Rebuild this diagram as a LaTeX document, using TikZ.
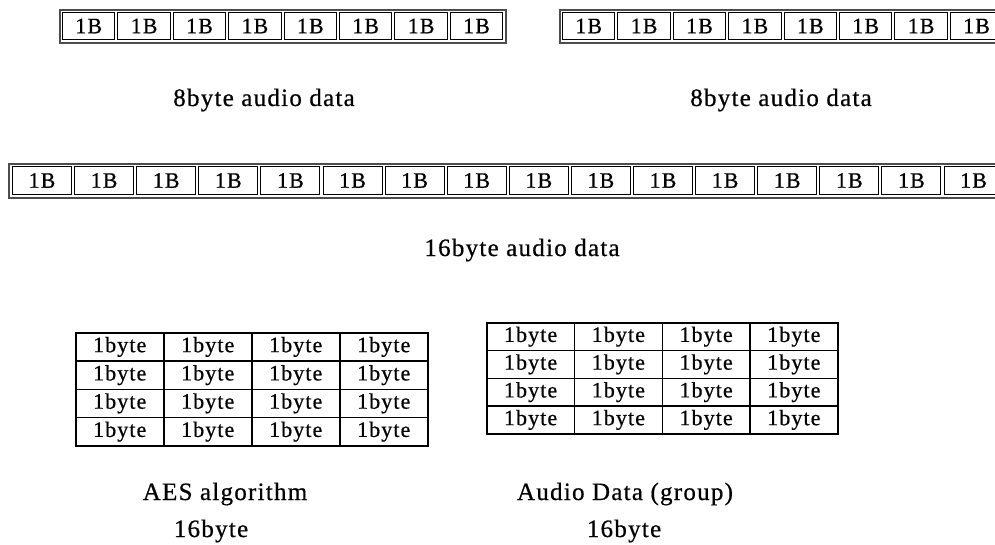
\documentclass[tikz,border=0pt]{standalone}
\usepackage{fontspec}
\setmainfont{Liberation Serif}[LetterSpace=5,FakeBold=0.6]
\begin{document}
\begin{tikzpicture}[x=1pt,y=-1pt,
  outerbox/.style={draw=black!70, line width=2pt, anchor=north west, inner sep=0},
  bcell/.style={draw=black, line width=1pt, anchor=north west, inner sep=0,
    font=\fontsize{22}{22}\selectfont},
  tcell/.style={draw=black, line width=1.5pt, anchor=north west, inner sep=0,
    minimum width=88pt, font=\fontsize{22}{22}\selectfont},
  caption/.style={anchor=base, inner sep=0, font=\fontsize{25}{25}\selectfont}]
\useasboundingbox (0,0) rectangle (995,545);
\clip (0,0) rectangle (995,545);
% top-left row of 8 bytes
\node[outerbox, minimum width=446pt, minimum height=33pt] (rowA) at (59,9) {};
\foreach \i in {0,...,7}
  \node[bcell, minimum width=52.4pt, minimum height=27pt] (a\i) at ({62+55.4*\i},12) {1B};
% top-right row of 8 bytes
\node[outerbox, minimum width=446pt, minimum height=33pt] (rowB) at (559,9) {};
\foreach \i in {0,...,7}
  \node[bcell, minimum width=52.4pt, minimum height=27pt] (b\i) at ({562+55.4*\i},12) {1B};
% middle row of 16 bytes
\node[outerbox, minimum width=1000pt, minimum height=34pt] (rowC) at (8,163) {};
\foreach \i in {0,...,15}
  \node[bcell, minimum width=59pt, minimum height=28pt] (c\i) at ({12+62.1*\i},166) {1B};
% captions
\node[caption] (capA) at (264,106) {8byte audio data};
\node[caption] (capB) at (781,106) {8byte audio data};
\node[caption] (capC) at (522,256) {16byte audio data};
% left table
\foreach \r in {0,...,3}
  \foreach \c in {0,...,3}
    \node[tcell, minimum height=28.25pt] (L\r\c) at ({75+88*\c},{332+28.25*\r}) {1byte};
% right table
\foreach \r in {0,...,3}
  \foreach \c in {0,...,3}
    \node[tcell, minimum width=87.75pt, minimum height=27.75pt] (R\r\c) at ({486+87.75*\c},{322+27.75*\r}) {1byte};
% bottom captions
\node[caption] (capD) at (225,500) {AES algorithm};
\node[caption] (capE) at (211,537) {16byte};
\node[caption] (capF) at (625,500) {Audio Data (group)};
\node[caption] (capG) at (624,537) {16byte};
\end{tikzpicture}
\end{document}
